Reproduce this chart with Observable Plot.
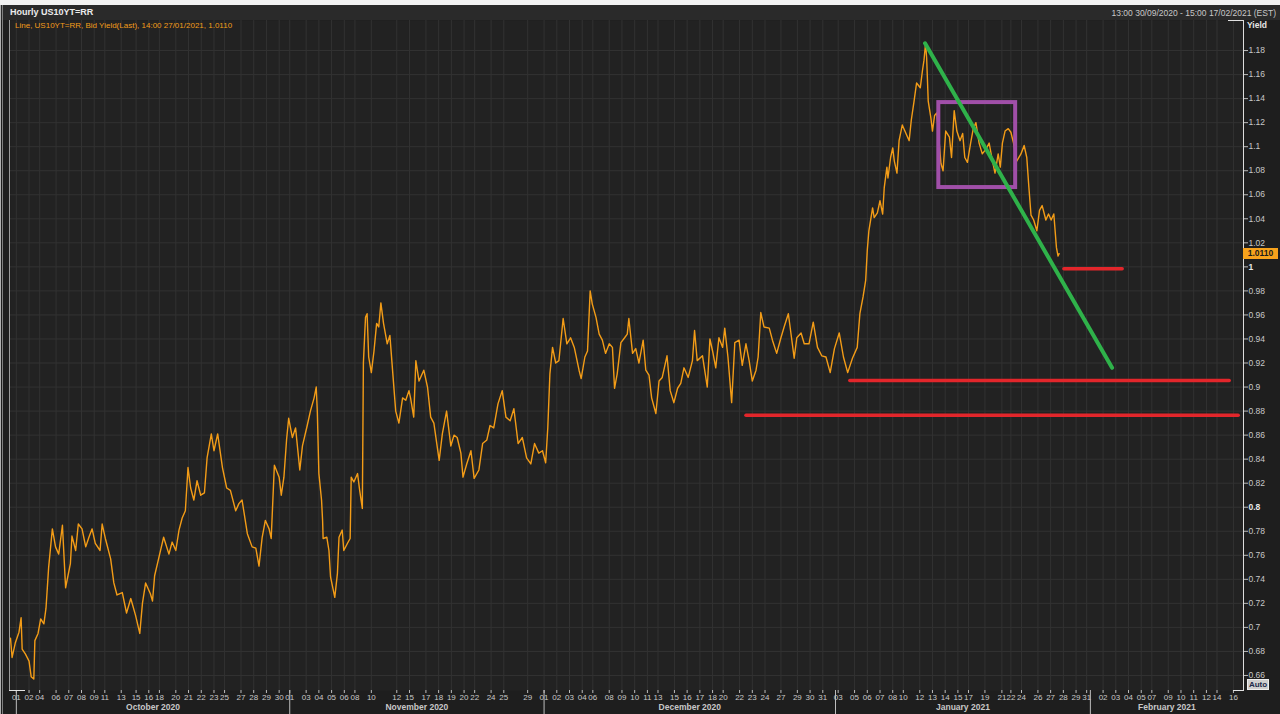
<!DOCTYPE html>
<html><head><meta charset="utf-8">
<script src="https://cdn.jsdelivr.net/npm/d3@7"></script>
<script src="https://cdn.jsdelivr.net/npm/@observablehq/plot@0.6"></script>
<style>
html,body{margin:0;padding:0;background:#1e1e1e;width:1280px;height:714px;overflow:hidden;font-family:"Liberation Sans",Arial,sans-serif;}
#wrap{position:relative;width:1280px;height:714px;background:#1e1e1e;}
.abs{position:absolute;}
#topstrip{left:0;top:0;width:1280px;height:5px;background:#f2f2f2;}
#header{left:0;top:5px;width:1280px;height:15px;background:#2a2a2a;}
#title{left:10px;top:7px;color:#ececec;font-weight:bold;font-size:9px;white-space:nowrap;}
#range{right:4px;top:8px;color:#c8c8c8;font-size:8.5px;white-space:nowrap;}
#chart{left:0;top:20px;}
#legend{left:15px;top:21px;color:#f29c1a;font-size:8px;white-space:nowrap;}
#yieldLbl{left:1247px;top:20px;color:#e6e6e6;font-weight:bold;font-size:8.5px;}
#tag{left:1243px;width:35px;height:11px;background:#f7a21c;color:#1a1a1a;font-weight:bold;font-size:8.5px;line-height:11px;text-align:center;}
#auto{left:1247px;top:679px;width:22px;height:11px;background:#cfcfcf;border:1px solid #eee;color:#1c2a4a;font-weight:bold;font-size:8px;line-height:9px;text-align:center;box-sizing:border-box;}
.wline{background:#e2e2e2;}
</style>
</head><body>
<div id="wrap">
  <div id="topstrip" class="abs"></div>
  <div id="header" class="abs"></div>
  <div id="title" class="abs">Hourly US10YT=RR</div>
  <div id="range" class="abs">13:00 30/09/2020 - 15:00 17/02/2021 (EST)</div>
  <div id="chart" class="abs"></div>
</div>
<script>
// ---------------- data ----------------
// hourly bars, EST wall clock: quotes Sunday 17:00 through Friday 20:00
const rangeStart = "2020-09-30T13";
const axisEnd = "2021-02-16T19";
// stretches with no quotes (holidays / missing hours)
const quoteGaps = [
  ["2020-10-13T12","2020-10-14T08"],
  ["2020-11-13T00","2020-11-13T20"],
  ["2020-11-26T00","2020-11-26T23"],
  ["2020-12-25T00","2020-12-25T14"],
  ["2021-01-01T00","2021-01-01T15"],
  ["2021-01-20T08","2021-01-21T00"],
  ["2021-01-21T17","2021-01-22T00"]
];

// x-axis tick labels (day of month) per month
const octDays = [1,2,4,6,7,8,9,11,13,15,16,18,20,21,22,23,25,27,28,29,30];
const novDays = [1,3,4,5,6,8,10,12,15,17,18,19,20,22,24,25,29];
const decDays = [1,2,3,4,6,8,9,10,11,13,15,16,17,18,20,22,23,24,27,29,30,31];
const janDays = [3,5,6,7,8,10,12,13,14,15,17,19,21,22,24,26,27,28,29,31];
const febDays = [2,3,4,5,7,9,10,11,12,14,16];
const monthKeys = ["2020-10","2020-11","2020-12","2021-01","2021-02"];
const monthNames = ["October 2020","November 2020","December 2020","January 2021","February 2021"];

// y-axis ticks
const yTickValues = d3.range(33, 60).map(i => i / 50);
const boldTicks = [0.8, 1];

// US10YT=RR bid yield: [hourly bars since 13:00 30/09/2020, yield]
const hourlyYield = [[0,.691],[3,.675],[9,.687],[16,.696],[20,.708],[22,.682],[28,.678],[35,.672],[39,.659],[44,.657],[46,.689],[52,.695],[57,.707],[63,.703],[67,.716],[72,.750],[79,.782],[85,.767],[91,.761],[98,.785],[104,.733],[113,.753],[116,.776],[123,.764],[128,.786],[135,.782],[142,.767],[148,.775],[154,.782],[160,.770],[169,.764],[173,.786],[179,.774],[189,.757],[195,.737],[201,.727],[211,.729],[219,.712],[227,.724],[236,.710],[244,.695],[249,.720],[255,.737],[264,.728],[268,.722],[272,.743],[280,.758],[289,.775],[299,.761],[305,.771],[312,.764],[318,.781],[324,.791],[330,.797],[335,.833],[340,.816],[346,.806],[352,.822],[359,.810],[366,.812],[371,.841],[379,.861],[384,.847],[391,.861],[400,.833],[408,.816],[415,.814],[425,.797],[431,.803],[437,.806],[447,.778],[456,.767],[463,.766],[469,.751],[475,.775],[481,.789],[488,.782],[492,.774],[498,.835],[507,.825],[511,.810],[516,.825],[521,.856],[525,.874],[532,.858],[538,.866],[546,.831],[551,.851],[560,.868],[566,.880],[573,.891],[577,.900],[579,.880],[582,.828],[587,.806],[589,.789],[590,.774],[597,.775],[601,.764],[604,.742],[612,.725],[617,.745],[620,.775],[626,.781],[629,.764],[636,.770],[641,.774],[643,.825],[648,.821],[655,.828],[659,.814],[664,.799],[666,.920],[670,.958],[673,.961],[676,.925],[681,.912],[686,.930],[691,.953],[695,.950],[699,.970],[704,.953],[711,.936],[716,.943],[724,.897],[727,.880],[733,.870],[740,.891],[746,.889],[752,.897],[755,.891],[761,.875],[765,.922],[771,.905],[780,.914],[787,.900],[793,.875],[799,.870],[809,.839],[815,.861],[823,.880],[831,.851],[837,.860],[843,.858],[850,.845],[854,.825],[861,.836],[869,.847],[875,.824],[884,.831],[891,.853],[899,.856],[905,.868],[912,.866],[920,.886],[928,.897],[935,.875],[943,.872],[950,.882],[958,.853],[966,.858],[974,.841],[982,.836],[989,.853],[997,.845],[1004,.847],[1010,.837],[1014,.866],[1018,.911],[1023,.933],[1029,.920],[1035,.922],[1043,.957],[1050,.936],[1057,.941],[1064,.933],[1073,.914],[1077,.907],[1084,.925],[1089,.930],[1094,.980],[1098,.969],[1105,.958],[1111,.944],[1117,.939],[1123,.928],[1130,.936],[1136,.933],[1140,.899],[1145,.911],[1152,.937],[1159,.941],[1164,.944],[1167,.957],[1174,.928],[1180,.932],[1186,.920],[1194,.939],[1199,.914],[1205,.910],[1210,.891],[1218,.878],[1224,.905],[1230,.908],[1239,.926],[1245,.897],[1252,.887],[1259,.899],[1265,.903],[1271,.916],[1279,.908],[1287,.922],[1291,.947],[1296,.922],[1306,.926],[1315,.900],[1320,.940],[1325,.930],[1331,.916],[1337,.941],[1344,.933],[1348,.949],[1354,.925],[1361,.887],[1367,.937],[1375,.939],[1381,.918],[1388,.936],[1394,.922],[1400,.905],[1407,.914],[1411,.925],[1416,.962],[1422,.950],[1432,.949],[1438,.939],[1446,.928],[1454,.941],[1460,.950],[1468,.961],[1474,.941],[1479,.924],[1484,.941],[1492,.945],[1498,.936],[1507,.936],[1515,.954],[1523,.933],[1531,.926],[1539,.925],[1547,.912],[1555,.932],[1564,.945],[1572,.925],[1580,.912],[1589,.924],[1598,.933],[1603,.961],[1609,.975],[1614,.989],[1617,1.014],[1620,1.030],[1627,1.049],[1630,1.041],[1636,1.045],[1641,1.055],[1646,1.044],[1649,1.066],[1654,1.083],[1656,1.074],[1661,1.091],[1665,1.099],[1668,1.088],[1673,1.078],[1677,1.105],[1683,1.118],[1690,1.111],[1696,1.105],[1700,1.122],[1705,1.137],[1710,1.153],[1717,1.149],[1721,1.163],[1724,1.172],[1727,1.186],[1729,1.174],[1732,1.138],[1737,1.124],[1740,1.113],[1744,1.126],[1748,1.128],[1751,1.113],[1756,1.086],[1760,1.080],[1765,1.113],[1772,1.108],[1776,1.091],[1781,1.130],[1786,1.113],[1792,1.105],[1797,1.111],[1801,1.091],[1806,1.087],[1812,1.103],[1817,1.115],[1822,1.120],[1828,1.103],[1834,1.094],[1841,1.098],[1847,1.103],[1852,1.091],[1858,1.078],[1864,1.094],[1868,1.083],[1872,1.103],[1877,1.113],[1883,1.115],[1888,1.112],[1893,1.103],[1899,1.088],[1907,1.094],[1913,1.101],[1918,1.091],[1922,1.066],[1926,1.043],[1931,1.039],[1937,1.030],[1942,1.047],[1947,1.051],[1954,1.039],[1959,1.044],[1964,1.039],[1969,1.044],[1974,1.016],[1977,1.009],[1979,1.011]];
const lastYield = 1.0110;

// annotations drawn on the chart (bars, yield)
const trendHours = [1726, 2079];
const trendYields = [1.186, 0.916];
const boxHours = [1752, 1897];
const boxYields = [1.066, 1.1367];
const levelFrom = [1988, 1584, 1388];
const levelTo = [2098, 2300, 2317];
const levelYields = [0.9985, 0.9054, 0.8765];

// ---------------- trading calendar ----------------
const HOUR = 3600e3;
function parseET(s){ const [d,h] = s.split("T"); const [Y,M,D] = d.split("-").map(Number); return Date.UTC(Y, M-1, D, h ? +h : 0); }
const START = parseET(rangeStart), END = parseET(axisEnd);
const gaps = quoteGaps.map(([a,b]) => [parseET(a), parseET(b)]);
function isOpen(t){
  const d = new Date(t), wd = d.getUTCDay(), hr = d.getUTCHours();
  if (wd === 6) return false;
  if (wd === 5 && hr >= 20) return false;
  if (wd === 0 && hr < 17) return false;
  return !gaps.some(([a,b]) => t >= a && t < b);
}
function tradingHours(t){ let n = 0; for (let u = START; u < t; u += HOUR) if (isOpen(u)) n++; return n; }
const TOTAL = tradingHours(END);

const dayLists = [octDays, novDays, decDays, janDays, febDays];
const ticks = [];
dayLists.forEach((days, m) => days.forEach(dd => {
  const key = monthKeys[m] + "-" + String(dd).padStart(2, "0");
  ticks.push({h: tradingHours(parseET(key)), label: String(dd).padStart(2, "0")});
}));
const tickLabel = new Map(ticks.map(t => [t.h, t.label]));
const monthStarts = monthKeys.map(k => tradingHours(parseET(k + "-01")));
const months = monthNames.map((name, i) => ({name, mid: (monthStarts[i] + (i + 1 < monthStarts.length ? monthStarts[i+1] : TOTAL)) / 2}));

const series = hourlyYield.map(([h, v]) => ({h, v}));
const trend = trendHours.map((h, i) => ({h, v: trendYields[i]}));
const box = [{x1: boxHours[0], x2: boxHours[1], y1: boxYields[0], y2: boxYields[1]}];
const levels = levelYields.map((v, i) => ({x1: levelFrom[i], x2: levelTo[i], v}));

// ---------------- chart ----------------
const grid = "#323232";
const fmt = d => String(+d.toFixed(2));
const chart = Plot.plot({
  width: 1280, height: 694,
  marginLeft: 10, marginRight: 37, marginTop: 0, marginBottom: 24,
  style: {background: "#1e1e1e", color: "#c8c8c8", fontFamily: "Liberation Sans, Arial, sans-serif", fontSize: "8.5px"},
  x: {type: "linear", domain: [0, TOTAL]},
  y: {domain: [0.6475, 1.205]},
  marks: [
    Plot.frame({fill: "#222222", stroke: "none"}),
    Plot.gridY(yTickValues, {stroke: grid, strokeOpacity: 1}),
    Plot.gridX(ticks.map(t => t.h), {stroke: grid, strokeOpacity: 1}),
    Plot.axisY(yTickValues.filter(d => !boldTicks.some(b => Math.abs(b - d) < 1e-9)), {anchor: "right", tickSize: 4, tickPadding: 1, tickFormat: fmt, label: null, stroke: "#bbbbbb"}),
    Plot.axisY(boldTicks, {anchor: "right", tickSize: 4, tickPadding: 1, tickFormat: fmt, label: null, fontWeight: "bold", fill: "#e8e8e8", stroke: "#bbbbbb"}),
    Plot.axisX(ticks.map(t => t.h), {anchor: "bottom", tickSize: 3, tickPadding: 1, fontSize: 8, tickFormat: d => tickLabel.get(d), label: null, stroke: "#bbbbbb"}),
    Plot.ruleX(monthStarts, {stroke: "#bdbdbd", insetTop: 670, insetBottom: -24}),
    Plot.text(months, {x: "mid", text: "name", frameAnchor: "bottom", dy: 19, fontWeight: "bold", fontSize: 8.5, fill: "#c8c8c8"}),
    Plot.frame({anchor: "right", stroke: "#dcdcdc"}),
    Plot.line(series, {x: "h", y: "v", stroke: "#f39c17", strokeWidth: 1.4}),
    Plot.link(levels, {x1: "x1", x2: "x2", y1: "v", y2: "v", stroke: "#e3262b", strokeWidth: 3.5, strokeLinecap: "round"}),
    Plot.rect(box, {x1: "x1", x2: "x2", y1: "y1", y2: "y2", fill: "none", stroke: "#a04fa8", strokeWidth: 4}),
    Plot.line(trend, {x: "h", y: "v", stroke: "#2fb24a", strokeWidth: 4, strokeLinecap: "round"})
  ]
});
const wrap = document.getElementById("wrap");
document.getElementById("chart").appendChild(chart);

function addDiv(id, cls, text, css){ const el = document.createElement("div"); if (id) el.id = id; el.className = "abs " + (cls || ""); if (text) el.textContent = text; Object.assign(el.style, css || {}); wrap.appendChild(el); return el; }
addDiv("legend", "", "Line, US10YT=RR, Bid Yield(Last), 14:00 27/01/2021, " + lastYield.toFixed(4));
addDiv("yieldLbl", "", "Yield");
const ty = chart.scale("y").apply(lastYield) + 20;
addDiv("tag", "", lastYield.toFixed(4), {top: (ty - 5.5) + "px"});
addDiv("auto", "", "Auto");
// frame corner marks and window border
addDiv(null, "wline", "", {left: "1228px", top: "20px", width: "15px", height: "1px"});
addDiv(null, "wline", "", {left: "1233px", top: "690px", width: "10px", height: "1px"});
addDiv(null, "wline", "", {left: "9px", top: "690px", width: "16px", height: "1px"});
addDiv(null, "", "", {left: "9px", top: "20px", width: "1px", height: "670px", background: "#9a9a9a"});
addDiv(null, "", "", {left: "0px", top: "5px", width: "1px", height: "709px", background: "#b0b0b0"});
addDiv(null, "", "", {left: "2px", top: "5px", width: "1px", height: "709px", background: "#808080"});
</script>
</body></html>
